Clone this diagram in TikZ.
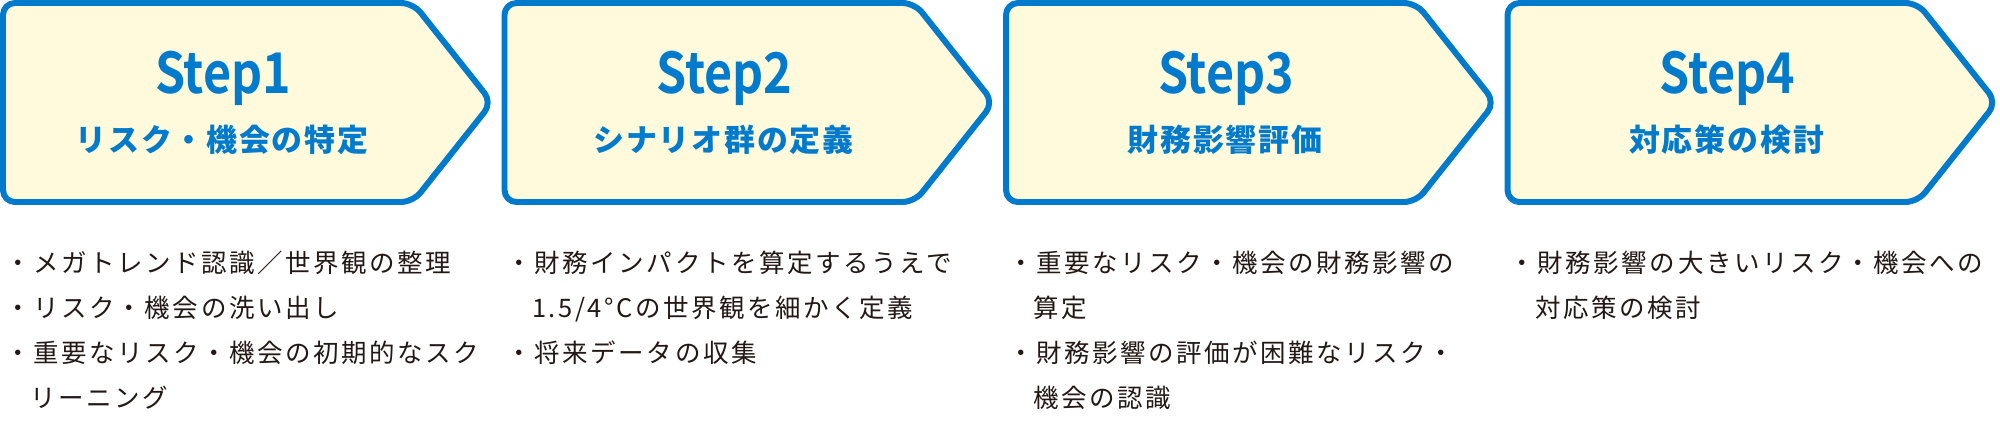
\documentclass[tikz,border=0pt]{standalone}
\usepackage{fontspec}
\newfontfamily\jpm[FakeStretch=0.86]{Noto Sans CJK JP Bold}
\newfontfamily\jpsub[LetterSpace=6]{Noto Sans CJK JP}
\newfontfamily\jpsp[LetterSpace=10]{Noto Sans CJK JP}
\definecolor{stepblue}{RGB}{0,122,204}
\definecolor{stepfill}{RGB}{255,250,220}
\definecolor{ink}{RGB}{35,24,21}
\begin{document}
\begin{tikzpicture}[x=0.02cm, y=0.02cm,
  stepbox/.style={draw=stepblue, fill=stepfill, line width=3.4pt,
    rounded corners=6.8pt, line join=round},
  steptitle/.style={text=stepblue, inner sep=0, anchor=base,
    font=\jpm\fontsize{32}{36}\selectfont},
  stepsub/.style={text=stepblue, inner sep=0, anchor=base,
    font=\jpsub\bfseries\fontsize{17.6}{20}\selectfont},
  tasklist/.style={text=ink, inner sep=0, anchor=north west, align=left,
    font=\jpsp\fontsize{14.5}{25.6}\selectfont}]
  \useasboundingbox (0,0) rectangle (2000,-424);
  \def\bW{489} \def\bH{199} \def\bTip{79} \def\pitch{501.5}
  \def\rTitle{-93} \def\rSub{-151} \def\rTask{-251}
  \foreach \i/\sub in {1/リスク・機会の特定, 2/シナリオ群の定義,
                       3/財務影響評価, 4/対応策の検討} {
    \pgfmathsetmacro\xL{(\i-1)*\pitch+3}
    \draw[stepbox] (\xL,-3) -- ({\xL+\bW-\bTip},-3) -- ({\xL+\bW},{-3-\bH/2})
      -- ({\xL+\bW-\bTip},{-3-\bH}) -- (\xL,{-3-\bH}) -- cycle;
    \node[steptitle] (step\i) at ({\xL+220}, \rTitle) {Step\i};
    \node[stepsub] (sub\i) at ({\xL+219}, \rSub) {\sub};
  }
  \node[tasklist] (task1) at (5, \rTask)
    {・メガトレンド認識／世界観の整理\\・リスク・機会の洗い出し\\
     ・重要なリスク・機会の初期的なスク\\\phantom{・}リーニング};
  \node[tasklist] (task2) at ({\pitch+5}, \rTask)
    {・財務インパクトを算定するうえで\\\phantom{・}1.5/4°Cの世界観を細かく定義\\
     ・将来データの収集};
  \node[tasklist] (task3) at ({2*\pitch+5}, \rTask)
    {・重要なリスク・機会の財務影響の\\\phantom{・}算定\\
     ・財務影響の評価が困難なリスク・\\\phantom{・}機会の認識};
  \node[tasklist] (task4) at ({3*\pitch+5}, \rTask)
    {・財務影響の大きいリスク・機会への\\\phantom{・}対応策の検討};
\end{tikzpicture}
\end{document}
